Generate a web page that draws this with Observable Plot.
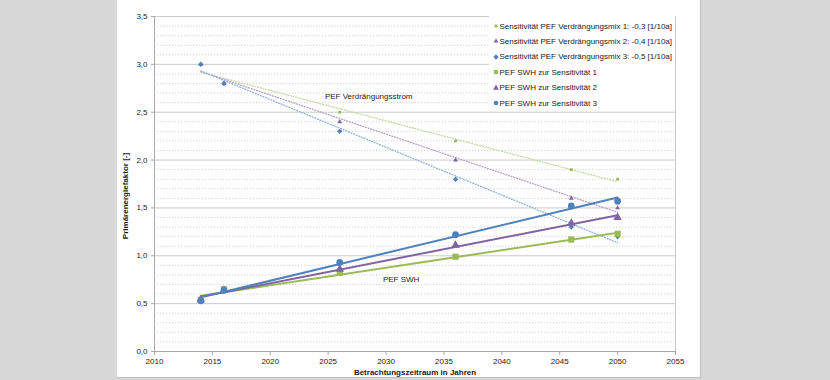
<!DOCTYPE html>
<html><head><meta charset="utf-8">
<script src="https://cdn.jsdelivr.net/npm/d3@7"></script>
<script src="https://cdn.jsdelivr.net/npm/@observablehq/plot@0.6"></script>
<style>
body{margin:0;background:#d7d7d7;}
#wrap{position:relative;width:830px;height:380px;background:#d7d7d7;overflow:hidden;font-family:"Liberation Sans",Arial,sans-serif;}
#panel{position:absolute;left:117px;top:0;width:583px;height:377px;background:#fff;border-right:1px solid #bdbdbd;border-bottom:1px solid #bdbdbd;}
#chart{position:absolute;left:0;top:0;}
#legend{position:absolute;left:489px;top:15px;width:186px;height:94px;background:#fff;font-size:8px;color:#1a1a1a;}
.row{position:absolute;left:0;height:12px;white-space:nowrap;display:flex;align-items:center;}
.row svg{display:block;}
</style></head><body>
<div id="wrap"><div id="panel"></div><div id="chart"></div><div id="legend"></div></div>
<script>
// ---- data ----
const years = [2014, 2016, 2026, 2036, 2046, 2050];
const sens1 = [3.0, 2.8, 2.5, 2.2, 1.9, 1.8];
const sens2 = [3.0, 2.8, 2.4, 2.0, 1.6, 1.5];
const sens3 = [3.0, 2.8, 2.3, 1.8, 1.3, 1.2];
const swh1 = [0.54, 0.65, 0.82, 0.99, 1.17, 1.23];
const swh2 = [0.54, 0.64, 0.86, 1.11, 1.34, 1.40];
const swh3 = [0.53, 0.64, 0.93, 1.22, 1.52, 1.57];
const seriesNames = [
  "Sensitivität PEF Verdrängungsmix 1: -0,3 [1/10a]",
  "Sensitivität PEF Verdrängungsmix 2: -0,4 [1/10a]",
  "Sensitivität PEF Verdrängungsmix 3: -0,5 [1/10a]",
  "PEF SWH zur Sensitivität 1",
  "PEF SWH zur Sensitivität 2",
  "PEF SWH zur Sensitivität 3"
];
const xTicks = [2010, 2015, 2020, 2025, 2030, 2035, 2040, 2045, 2050, 2055];
const yTicks = [0, 0.5, 1.0, 1.5, 2.0, 2.5, 3.0, 3.5];
const annotLabels = ["PEF Verdrängungsstrom", "PEF SWH"];
const annotX = [2028.5, 2031.3];
const annotY = [2.66, 0.75];

// ---- styles ----
const green = "#9bbb59", purple = "#8064a2", blue = "#4f81bd";
const sensStyle = [
  {color: green, trend: "#c6d9a0", symbol: "square", r: 1.6},
  {color: purple, trend: "#b3a2c9", symbol: "triangle", r: 1.8},
  {color: blue, trend: "#93b2d9", symbol: "diamond2", r: 2.4}
];
const swhStyle = [
  {color: green, symbol: "square", r: 3.5},
  {color: purple, symbol: "triangle", r: 3.2},
  {color: blue, symbol: "circle", r: 3.4}
];

const toRows = ys => years.map((x, i) => ({x, y: ys[i]}));
const sensData = [sens1, sens2, sens3].map(toRows);
const swhData = [swh1, swh2, swh3].map(toRows);
const minor = d3.range(0, 35).map(i => i / 10).filter(v => Math.abs(v * 2 - Math.round(v * 2)) > 1e-6);
const fmt = d => d.toFixed(1).replace(".", ",");
const annots = annotLabels.map((t, i) => ({t, x: annotX[i], y: annotY[i]}));

const marks = [
  Plot.ruleY(minor, {stroke: "#d2d2d2", strokeDasharray: "1.2,1.8"}),
  Plot.ruleY(yTicks.slice(1), {stroke: "#cacaca"}),
  Plot.ruleX([2055], {stroke: "#cacaca"}),
  Plot.axisX({ticks: xTicks, tickFormat: d3.format("d"), tickSize: 4, tickPadding: 3, label: null, stroke: "#a8a8a8", fontSize: 8}),
  Plot.axisY({ticks: yTicks, tickFormat: fmt, tickSize: 3, tickPadding: 4, label: null, stroke: "#a8a8a8", fontSize: 8}),
  Plot.ruleX([2010], {stroke: "#a8a8a8"}),
  Plot.ruleY([0], {stroke: "#a8a8a8"})
];
sensData.forEach((d, i) => {
  marks.push(Plot.linearRegressionY(d, {x: "x", y: "y", ci: 0, stroke: sensStyle[i].trend, strokeWidth: 1.3, strokeDasharray: "1,1.8"}));
});
swhData.forEach((d, i) => {
  marks.push(Plot.linearRegressionY(d, {x: "x", y: "y", ci: 0, stroke: swhStyle[i].color, strokeWidth: 2}));
});
sensData.forEach((d, i) => {
  marks.push(Plot.dot(d, {x: "x", y: "y", symbol: () => sensStyle[i].symbol, r: sensStyle[i].r, fill: sensStyle[i].color, stroke: "none"}));
});
swhData.forEach((d, i) => {
  marks.push(Plot.dot(d, {x: "x", y: "y", symbol: () => swhStyle[i].symbol, r: swhStyle[i].r, fill: swhStyle[i].color, stroke: "none"}));
});
marks.push(Plot.text(annots, {x: "x", y: "y", text: "t", fontSize: 8, fill: "#1a1a1a"}));
marks.push(Plot.text(["Primärenergiefaktor [-]"], {frameAnchor: "left", dx: -29, dy: 12, rotate: -90, textAnchor: "middle", lineAnchor: "middle", fontWeight: "bold", fontSize: 8, fill: "#1a1a1a"}));
marks.push(Plot.text(["Betrachtungszeitraum in Jahren"], {frameAnchor: "bottom", dy: 21, textAnchor: "middle", lineAnchor: "middle", fontWeight: "bold", fontSize: 8, fill: "#1a1a1a"}));

const chart = Plot.plot({
  width: 830, height: 380,
  marginLeft: 154, marginRight: 155, marginTop: 16, marginBottom: 29,
  style: {background: "transparent", fontFamily: "'Liberation Sans', Arial, sans-serif", fontSize: "8px", color: "#1a1a1a"},
  x: {domain: [2010, 2055]},
  y: {domain: [0, 3.5]},
  symbol: {type: "identity"},
  marks
});
document.getElementById("chart").appendChild(chart);

// ---- legend ----
const legend = document.getElementById("legend");
const legendItems = [...sensStyle, ...swhStyle];
const symbolTypes = {circle: d3.symbolCircle, square: d3.symbolSquare, triangle: d3.symbolTriangle, diamond2: d3.symbolDiamond2};
const symbolPath = (name, r) => d3.symbol(symbolTypes[name], Math.PI * r * r)();
legendItems.forEach((s, i) => {
  const row = document.createElement("div");
  row.className = "row";
  row.style.top = (5 + i * 15.4) + "px";
  const sz = 10;
  row.innerHTML = `<svg width="${sz}" height="${sz}" style="margin-left:1.5px"><path transform="translate(${sz/2},${sz/2})" d="${symbolPath(s.symbol, i < 3 ? s.r : s.r * 0.68)}" fill="${s.color}"/></svg><span style="margin-left:-1px">${seriesNames[i]}</span>`;
  legend.appendChild(row);
});
</script>
</body></html>
